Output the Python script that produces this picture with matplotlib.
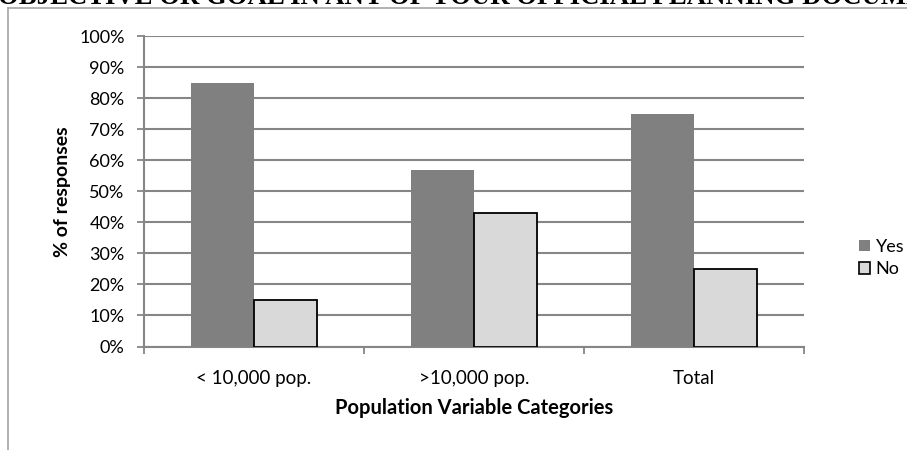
import numpy as np
import matplotlib.pyplot as plt
from matplotlib.lines import Line2D
from matplotlib.patches import Patch

categories = ['< 10,000 pop.', '>10,000 pop.', 'Total']
yes_vals = [85, 57, 75]
no_vals = [15, 43, 25]
title_text = 'OBJECTIVE OR GOAL IN ANY OF YOUR OFFICIAL PLANNING DOCUMENTS'

plt.rcParams['font.family'] = ['Lato', 'DejaVu Sans']

fig = plt.figure(figsize=(9.07, 4.5), dpi=100)

# chart frame (partly outside the image) and the cropped heading above it
fig.add_artist(Line2D([8 / 907, 8 / 907], [0, 1 - 8 / 450], color='#a6a6a6', lw=1.2))
fig.add_artist(Line2D([8 / 907, 1], [1 - 8 / 450, 1 - 8 / 450], color='#a6a6a6', lw=1.2))
fig.text(-0.002, 1 - 3.5 / 450, title_text, family='Liberation Serif', fontweight='bold',
         fontsize=19.3, va='baseline', ha='left')

ax = fig.add_axes([144 / 907, 1 - 346.5 / 450, 660 / 907, 310.5 / 450])

x = np.arange(len(categories))
w = 63 / 220
ax.bar(x - w / 2, yes_vals, width=w, color='#808080', edgecolor='none', zorder=3, label='Yes')
ax.bar(x + w / 2, no_vals, width=w, color='#d9d9d9', edgecolor='black', linewidth=1.3, zorder=3, label='No')

ax.set_xlim(-0.5, len(categories) - 0.5)
ax.set_ylim(0, 100)
ax.set_yticks(range(0, 101, 10))
ax.set_yticklabels([f'{v}%' for v in range(0, 101, 10)], fontsize=13)
ax.set_xticks(x)
ax.set_xticklabels(categories, fontsize=13.5)
ax.set_xticks(np.arange(-0.5, len(categories)), minor=True)
ax.tick_params(axis='x', which='major', length=0, pad=17)
ax.tick_params(axis='x', which='minor', length=5, color='#868686', width=1.3)
ax.tick_params(axis='y', length=5, color='#868686', width=1.3, pad=9)

ax.yaxis.grid(True, color='#868686', linewidth=1.5, zorder=0)
for side in ['top', 'right']:
    ax.spines[side].set_visible(False)
for side in ['left', 'bottom']:
    ax.spines[side].set_color('#868686')
    ax.spines[side].set_linewidth(1.5)

ax.set_ylabel('% of responses', fontsize=14, fontweight='bold', labelpad=6)
ax.set_xlabel('Population Variable Categories', fontsize=14.5, fontweight='bold', labelpad=8)

handles = [Patch(facecolor='#808080', edgecolor='none', label='Yes'),
           Patch(facecolor='#d9d9d9', edgecolor='black', linewidth=1.2, label='No')]
fig.legend(handles=handles, loc='center left', bbox_to_anchor=(843 / 907, 1 - 258 / 450),
           frameon=False, fontsize=13, handlelength=0.6, handleheight=0.6,
           handletextpad=0.3, labelspacing=0.35)

fig.savefig('out.png', dpi=100)
